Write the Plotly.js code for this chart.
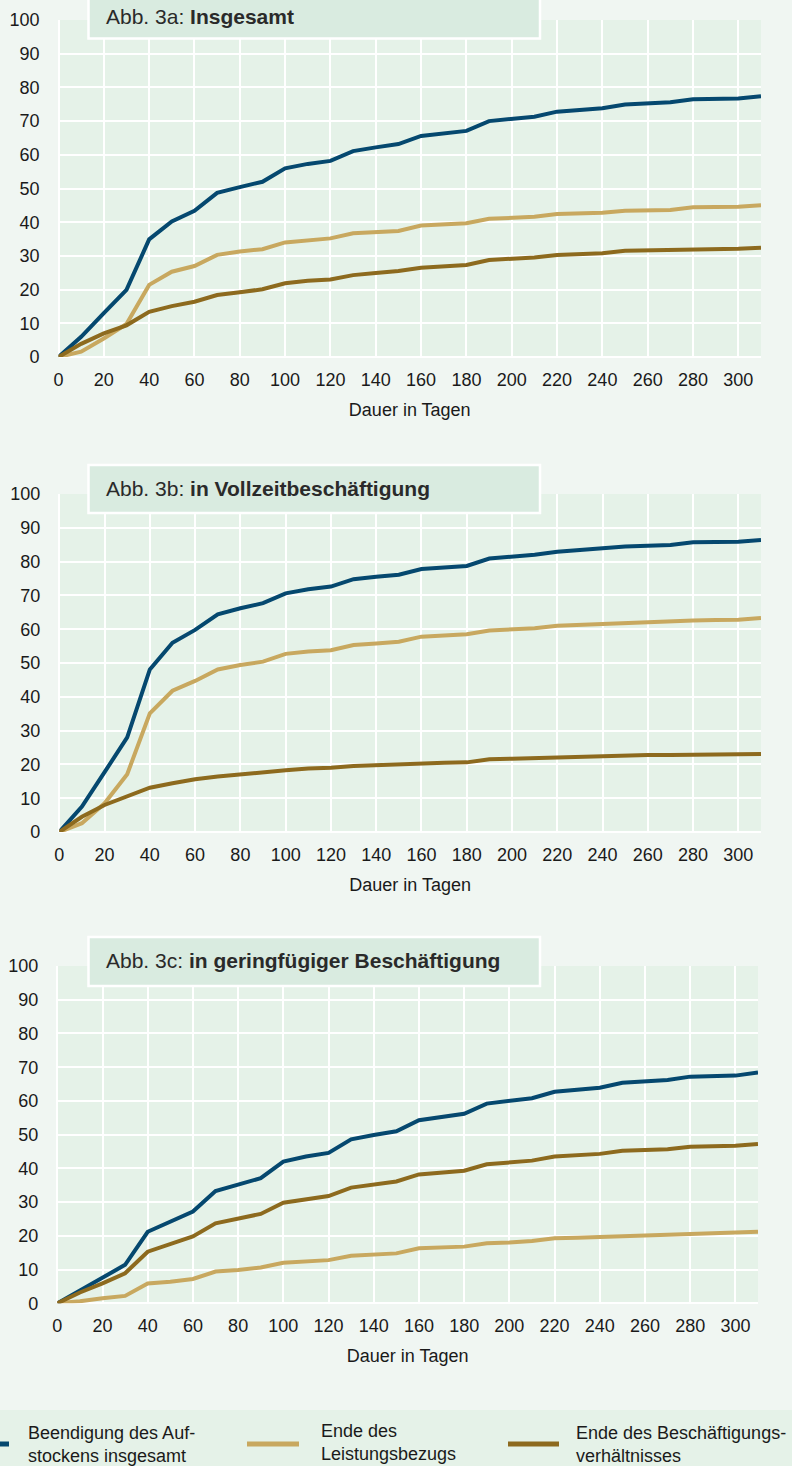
<!DOCTYPE html>
<html>
<head>
<meta charset="utf-8">
<script src="https://cdn.plot.ly/plotly-3.0.1.min.js"></script>
<style>
  html, body { margin: 0; padding: 0; background: #f0f6f2; }
  #chart { width: 792px; height: 1466px; }
</style>
</head>
<body>
<div id="chart"></div>
<script>
// ---- Data ----
const days = [0,10,20,30,40,50,60,70,80,90,100,110,120,130,140,150,160,170,180,190,200,210,220,230,240,250,260,270,280,290,300,310];

const panelTitles = [
  "Abb. 3a: <b>Insgesamt</b>",
  "Abb. 3b: <b>in Vollzeitbeschäftigung</b>",
  "Abb. 3c: <b>in geringfügiger Beschäftigung</b>"
];

const seriesNames = [
  "Beendigung des Auf-<br>stockens insgesamt",
  "Ende des<br>Leistungsbezugs",
  "Ende des Beschäftigungs-<br>verhältnisses"
];

const xTickVals = [0,20,40,60,80,100,120,140,160,180,200,220,240,260,280,300];
const yTickVals = [0,10,20,30,40,50,60,70,80,90,100];
const xAxisTitle = "Dauer in Tagen";

// Abb. 3a Insgesamt
const a_aufstocken = [0,6.0,13.0,19.9,34.9,40.2,43.4,48.7,50.4,52.0,56.0,57.3,58.2,61.1,62.2,63.2,65.6,66.4,67.1,70.0,70.6,71.3,72.8,73.3,73.8,74.9,75.3,75.6,76.5,76.6,76.7,77.4];
const a_leistung   = [0,1.6,5.5,9.8,21.4,25.3,27.0,30.3,31.3,32.0,34.0,34.7,35.2,36.7,37.1,37.4,39.0,39.4,39.7,41.0,41.3,41.6,42.4,42.6,42.8,43.4,43.5,43.6,44.4,44.5,44.6,45.0];
const a_beschaeft  = [0,3.9,7.0,9.4,13.4,15.1,16.4,18.4,19.2,20.1,21.9,22.6,23.0,24.3,24.9,25.5,26.5,26.9,27.3,28.8,29.2,29.5,30.3,30.6,30.8,31.5,31.6,31.8,32.0,32.0,32.1,32.4];

// Abb. 3b in Vollzeitbeschäftigung
const b_aufstocken = [0,7.5,17.7,28.0,48.1,56.0,59.8,64.4,66.2,67.7,70.6,71.8,72.6,74.8,75.5,76.1,77.8,78.3,78.7,80.9,81.5,82.0,82.9,83.4,83.8,84.5,84.7,84.9,85.7,85.8,85.9,86.4];
const b_leistung   = [0,2.6,8.5,17.1,35.1,41.8,44.7,48.1,49.4,50.4,52.7,53.4,53.8,55.3,55.8,56.3,57.8,58.2,58.5,59.6,60.0,60.3,61.0,61.3,61.5,61.9,62.1,62.2,62.6,62.7,62.8,63.3];
const b_beschaeft  = [0,4.5,8.0,10.5,13.1,14.4,15.6,16.4,17.1,17.7,18.3,18.8,19.0,19.5,19.8,20.0,20.3,20.5,20.6,21.5,21.7,21.9,22.1,22.3,22.5,22.7,22.8,22.8,22.9,23.0,23.0,23.1];

// Abb. 3c in geringfügiger Beschäftigung
const c_aufstocken = [0,3.8,7.4,11.4,21.2,24.2,27.2,33.3,35.3,37.1,42.0,43.5,44.6,48.6,49.9,51.0,54.3,55.3,56.2,59.2,60.0,60.8,62.7,63.3,63.9,65.4,65.8,66.2,67.2,67.4,67.5,68.4];
const c_leistung   = [0,0.6,1.5,2.2,5.9,6.4,7.2,9.4,9.9,10.6,12.0,12.4,12.8,14.1,14.5,14.8,16.3,16.5,16.8,17.8,18.0,18.5,19.3,19.4,19.6,20.0,20.1,20.3,20.5,20.6,20.8,21.2];
const c_beschaeft  = [0,3.2,5.9,8.9,15.3,17.5,19.8,23.7,25.2,26.5,29.8,30.9,31.8,34.3,35.3,36.1,38.2,38.8,39.3,41.2,41.8,42.3,43.5,44.0,44.3,45.2,45.5,45.7,46.4,46.6,46.7,47.2];

// ---- Styling ----
const W = 792, H = 1466;
const COLORS = ["#05486f", "#c8a85f", "#8d6a1e"];
const PAPER = "#f0f6f2", PLOTBG = "#e5f2e8", BOXBG = "#d9ebe0", TXT = "#1a1a1a";
const FONT = "Liberation Sans, Arial, Helvetica, sans-serif";

const px = x => x / W;
const py = y => 1 - y / H;

// panel pixel geometry
const panels = [
  {l: 58.5, r: 761, t: 20,  b: 357,  box: [88.5, 540, -12, 38.5],  ty: 17},
  {l: 59.3, r: 761, t: 494, b: 832,  box: [88.5, 540, 465, 513],  ty: 489},
  {l: 57.3, r: 758, t: 966, b: 1303.3, box: [88.5, 540, 937, 986], ty: 960}
];

const allSeries = [
  [a_aufstocken, a_leistung, a_beschaeft],
  [b_aufstocken, b_leistung, b_beschaeft],
  [c_aufstocken, c_leistung, c_beschaeft]
];

const data = [];
const layout = {
  width: W, height: H,
  margin: {l: 0, r: 0, t: 0, b: 0},
  paper_bgcolor: PAPER,
  plot_bgcolor: PLOTBG,
  showlegend: false,
  font: {family: FONT, size: 18, color: TXT},
  shapes: [],
  annotations: []
};

panels.forEach((p, i) => {
  const sfx = i === 0 ? "" : String(i + 1);
  allSeries[i].forEach((ys, k) => {
    data.push({
      type: "scatter", mode: "lines",
      x: days, y: ys,
      name: seriesNames[k],
      xaxis: "x" + sfx, yaxis: "y" + sfx,
      line: {color: COLORS[k], width: 4},
      hoverinfo: "skip"
    });
  });
  layout["xaxis" + sfx] = {
    domain: [px(p.l), px(p.r)],
    anchor: "y" + sfx,
    range: [0, 310],
    tickvals: xTickVals,
    showgrid: true, gridcolor: "#ffffff", gridwidth: 2,
    zeroline: true, zerolinecolor: "#ffffff", zerolinewidth: 2,
    showline: false, ticks: "",
    ticklabelstandoff: 10,
    tickfont: {family: FONT, size: 18, color: TXT},
    title: {text: xAxisTitle, font: {family: FONT, size: 18, color: TXT}, standoff: 14},
    fixedrange: true
  };
  layout["yaxis" + sfx] = {
    domain: [py(p.b), py(p.t)],
    anchor: "x" + sfx,
    range: [0, 100],
    tickvals: yTickVals,
    showgrid: true, gridcolor: "#ffffff", gridwidth: 2,
    zeroline: true, zerolinecolor: "#ffffff", zerolinewidth: 2,
    showline: false, ticks: "",
    ticklabelstandoff: 18,
    tickfont: {family: FONT, size: 18, color: TXT},
    fixedrange: true
  };
  // title box
  layout.shapes.push({
    type: "rect", xref: "paper", yref: "paper", layer: "above",
    x0: px(p.box[0]), x1: px(p.box[1]), y0: py(p.box[3]), y1: py(p.box[2]),
    fillcolor: BOXBG, line: {color: "#ffffff", width: 2.5}
  });
  layout.annotations.push({
    xref: "paper", yref: "paper", x: px(104), y: py(p.ty),
    xanchor: "left", yanchor: "middle", showarrow: false,
    text: panelTitles[i],
    font: {family: FONT, size: 21, color: "#2a2a2a"}
  });
});

// legend band
layout.shapes.push({
  type: "rect", xref: "paper", yref: "paper", layer: "below",
  x0: 0, x1: 1, y0: 0, y1: py(1410),
  fillcolor: PLOTBG, line: {width: 0}
});
const legendItems = [
  {x0: -42, x1: 9,   tx: 26,  ty: 1444.5},
  {x0: 247, x1: 299, tx: 319, ty: 1442.5},
  {x0: 508, x1: 559, tx: 574, ty: 1444}
];
legendItems.forEach((it, k) => {
  layout.shapes.push({
    type: "line", xref: "paper", yref: "paper", layer: "above",
    x0: px(it.x0), x1: px(it.x1), y0: py(1444), y1: py(1444),
    line: {color: COLORS[k], width: 5}
  });
  layout.annotations.push({
    xref: "paper", yref: "paper", x: px(it.tx), y: py(it.ty),
    xanchor: "left", yanchor: "middle", align: "left", showarrow: false,
    text: seriesNames[k],
    font: {family: FONT, size: 18, color: TXT}
  });
});

Plotly.newPlot("chart", data, layout, {staticPlot: true, displayModeBar: false});
</script>
</body>
</html>
